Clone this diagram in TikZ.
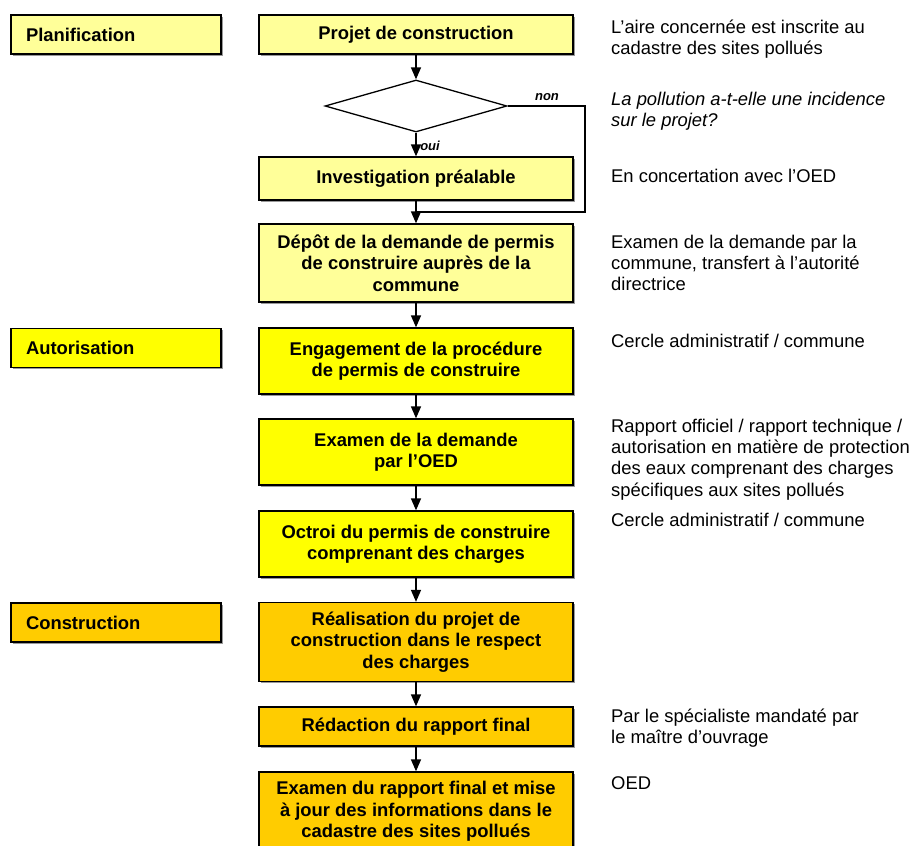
\documentclass[tikz,border=0pt]{standalone}
\usepackage{fontspec}
\setmainfont{Liberation Sans}
\usetikzlibrary{arrows.meta,shapes.geometric,shadows}
\definecolor{paleyellow}{HTML}{FFFF99}
\definecolor{brightyellow}{HTML}{FFFF00}
\definecolor{darkyellow}{HTML}{FFCC00}
\newcommand{\txtsize}{\fontsize{18.4}{21.4}\selectfont}

\begin{document}
\begin{tikzpicture}[x=1pt,y=-1pt,font=\txtsize,
    phase/.style={draw,line width=1.3pt,minimum width=210pt,minimum height=39pt,text width=180pt,inner xsep=15pt,align=left,font=\txtsize\bfseries,shade},
    stepbox/.style={draw,line width=1.3pt,minimum width=314pt,align=center,font=\txtsize\bfseries,shade},
    note/.style={anchor=north west,inner sep=0pt,align=left},
    small/.style={inner sep=0pt,font=\fontsize{13}{15}\selectfont\bfseries\itshape},
    flow/.style={line width=1.5pt,-{Triangle[width=10pt,length=12pt]}},
    shade/.style={drop shadow={shadow xshift=1.5pt,shadow yshift=-1.5pt,fill=black!40,opacity=1}}]

        \useasboundingbox (0,0) rectangle (911,846);
        \clip (0,0) rectangle (911,846);

        % Phases on the left
        \node[phase,fill=paleyellow] (planif) at (116,34.5) {Planification};
        \node[phase,fill=brightyellow] (autor) at (116,348) {Autorisation};
        \node[phase,fill=darkyellow] (constr) at (116,622.5) {Construction};

        % Steps of the procedure
        \node[stepbox,fill=paleyellow,minimum height=39pt] (projet) at (416,34.5) {Projet de construction};
        \node[draw,diamond,line width=1.3pt,minimum width=182pt,minimum height=52pt,inner sep=0pt] (decision) at (416,106) {};
        \node[stepbox,fill=paleyellow,minimum height=43pt] (investig) at (416,178.5) {Investigation préalable};
        \node[stepbox,fill=paleyellow,minimum height=78pt] (depot) at (416,263) {Dépôt de la demande de permis\\de construire auprès de la\\commune};
        \node[stepbox,fill=brightyellow,minimum height=66pt] (engag) at (416,361) {Engagement de la procédure\\de permis de construire};
        \node[stepbox,fill=brightyellow,minimum height=66pt] (examen) at (416,452) {Examen de la demande\\par l’OED};
        \node[stepbox,fill=brightyellow,minimum height=66pt] (octroi) at (416,544) {Octroi du permis de construire\\comprenant des charges};
        \node[stepbox,fill=darkyellow,minimum height=79pt] (realis) at (416,642) {Réalisation du projet de\\construction dans le respect\\des charges};
        \node[stepbox,fill=darkyellow,minimum height=39pt] (redac) at (416,726.5) {Rédaction du rapport final};
        \node[stepbox,fill=darkyellow,minimum height=79pt] (rapport) at (416,811.5) {Examen du rapport final et mise\\à jour des informations dans le\\cadastre des sites pollués};

        % Arrows between the steps
        \draw[flow] (projet) -- (decision);
        \draw[flow] (decision) -- (investig);
        \draw[flow] (investig) -- (depot);
        \draw[flow] (depot) -- (engag);
        \draw[flow] (engag) -- (examen);
        \draw[flow] (examen) -- (octroi);
        \draw[flow] (octroi) -- (realis);
        \draw[flow] (realis) -- (redac);
        \draw[flow] (redac) -- (rapport);

        % Bypass when the answer is no
        \coordinate (bypass) at (585,212);
        \coordinate (rejoin) at (416,212);
        \draw[line width=1.5pt] (decision.east) -| (bypass) -- (rejoin);
        \node[small] (non) at (547,97) {non};
        \node[small] (oui) at (430,146) {oui};

        % Remarks on the right
        \node[note] (rem1) at (611,19.5) {L’aire concernée est inscrite au\\cadastre des sites pollués};
        \node[note,font=\txtsize\itshape] (rem2) at (611,91.5) {La pollution a-t-elle une incidence\\sur le projet?};
        \node[note] (rem3) at (611,168.5) {En concertation avec l’OED};
        \node[note] (rem4) at (611,234.5) {Examen de la demande par la\\commune, transfert à l’autorité\\directrice};
        \node[note] (rem5) at (611,333.5) {Cercle administratif / commune};
        \node[note] (rem6) at (611,418.5) {Rapport officiel / rapport technique /\\autorisation en matière de protection\\des eaux comprenant des charges\\spécifiques aux sites pollués};
        \node[note] (rem7) at (611,513) {Cercle administratif / commune};
        \node[note] (rem8) at (611,708.5) {Par le spécialiste mandaté par\\le maître d’ouvrage};
        \node[note] (rem9) at (611,776.5) {OED};

    \end{tikzpicture}
\end{document}
